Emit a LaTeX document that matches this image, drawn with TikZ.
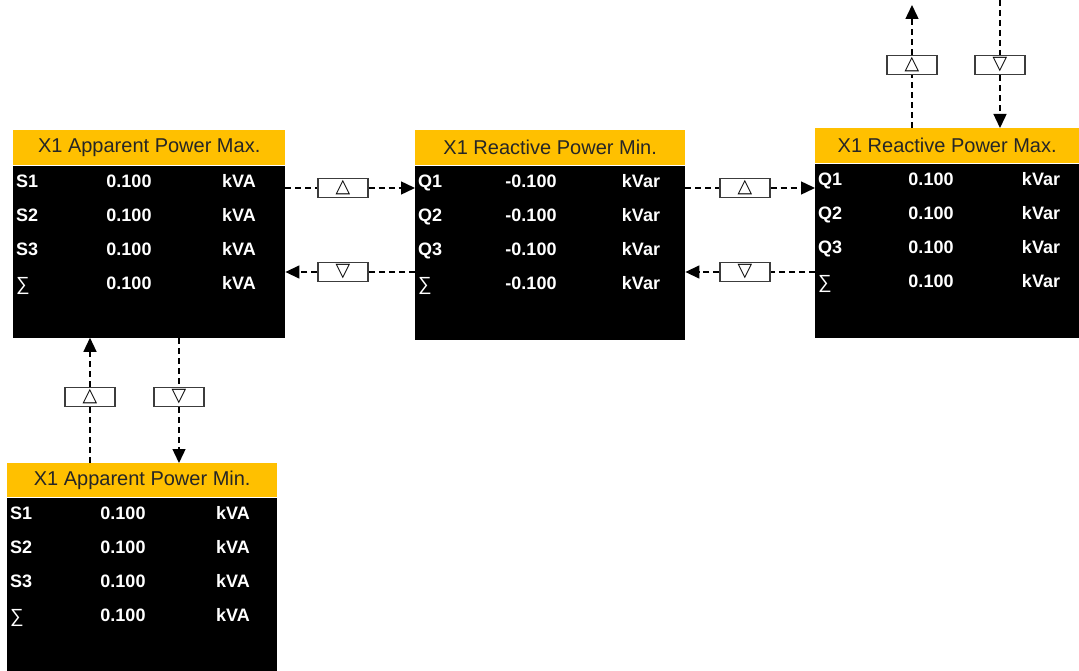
\documentclass[tikz,border=0pt]{standalone}
\usepackage{fontspec}
\setmainfont{Liberation Sans}
\newfontfamily\symfont{DejaVu Sans}
\usetikzlibrary{arrows.meta,calc}
\definecolor{headorange}{RGB}{255,192,0}
\definecolor{btnline}{RGB}{60,60,60}

\begin{document}
\begin{tikzpicture}[x=1pt,y=-1pt,
  head/.style={fill=headorange, anchor=north west, inner sep=0pt, text=black!85,
    font=\fontsize{20}{20}\selectfont},
  screen/.style={fill=black, anchor=north west, inner sep=0pt},
  lbl/.style={anchor=west, text=white, inner sep=0pt, text height=13pt, text depth=0pt,
    font=\fontsize{18}{18}\selectfont\bfseries},
  val/.style={lbl, anchor=center},
  btn/.style={draw=btnline, line width=1.2pt, fill=white, minimum width=50pt,
    minimum height=19pt, inner sep=0pt, font=\symfont\fontsize{19}{19}\selectfont},
  link/.style={line width=1.4pt, dash pattern=on 6pt off 4pt},
  tip/.style={link, -{Triangle[length=14pt,width=13pt]}}
]
\useasboundingbox (0,0) rectangle (1079,671);

% screens
\node[head, minimum width=272pt, minimum height=35pt] (apmaxH) at (13,130) {X1 Apparent Power Max.};
\node[screen, minimum width=272pt, minimum height=172pt] (apmax) at (apmaxH.south west) {};

\node[head, minimum width=270pt, minimum height=35pt] (rpminH) at (415,130) {X1 Reactive Power Min.};
\node[screen, minimum width=270pt, minimum height=174pt] (rpmin) at (rpminH.south west) {};

\node[head, minimum width=264pt, minimum height=35pt] (rpmaxH) at (815,128) {X1 Reactive Power Max.};
\node[screen, minimum width=264pt, minimum height=174pt] (rpmax) at (rpmaxH.south west) {};

\node[head, minimum width=270pt, minimum height=34pt] (apminH) at (7,463) {X1 Apparent Power Min.};
\node[screen, minimum width=270pt, minimum height=174pt] (apmin) at (apminH.south west) {};

% rows
\foreach \p/\q/\v/\u in {apmax/S/0.100/kVA, apmin/S/0.100/kVA, rpmin/Q/-0.100/kVar, rpmax/Q/0.100/kVar}{
  \foreach \r/\dy in {1/16,2/50,3/84}{
    \node[lbl] (\p-l\r) at ($(\p.north west)+(3,\dy)$) {\q\r};
    \node[val] (\p-v\r) at ($(\p.north west)+(116,\dy)$) {\v};
    \node[val] (\p-u\r) at ($(\p.north west)+(226,\dy)$) {\u};
  }
  \node[lbl, font=\fontsize{19}{19}\selectfont] (\p-l4) at ($(\p.north west)+(3,119)$) {∑};
  \node[val] (\p-v4) at ($(\p.north west)+(116,118)$) {\v};
  \node[val] (\p-u4) at ($(\p.north west)+(226,118)$) {\u};
}

% keys
\node[btn] (up1) at (343,188) {△};
\node[btn] (dn1) at (343,272) {▽};
\node[btn] (up2) at (745,188) {△};
\node[btn] (dn2) at (745,272) {▽};
\node[btn] (up3) at (912,65) {△};
\node[btn] (dn3) at (1000,65) {▽};
\node[btn] (up4) at (90,397) {△};
\node[btn] (dn4) at (179,397) {▽};

\coordinate (outUp) at (912,5);
\coordinate (inDn) at (1000,0);

% connectors
\draw[link] (up1 -| apmax.east) -- (up1);
\draw[tip] (up1) -- (up1 -| rpmin.west);
\draw[link] (dn1 -| rpmin.west) -- (dn1);
\draw[tip] (dn1) -- (dn1 -| apmax.east);

\draw[link] (up2 -| rpmin.east) -- (up2);
\draw[tip] (up2) -- (up2 -| rpmax.west);
\draw[link] (dn2 -| rpmax.west) -- (dn2);
\draw[tip] (dn2) -- (dn2 -| rpmin.east);

\draw[link] (up3 |- rpmaxH.north) -- (up3);
\draw[tip] (up3) -- (outUp);
\draw[link] (inDn) -- (dn3);
\draw[tip] (dn3) -- (dn3 |- rpmaxH.north);

\draw[link] (up4 |- apminH.north) -- (up4);
\draw[tip] (up4) -- (up4 |- apmax.south);
\draw[link] (dn4 |- apmax.south) -- (dn4);
\draw[tip] (dn4) -- (dn4 |- apminH.north);

\end{tikzpicture}
\end{document}
